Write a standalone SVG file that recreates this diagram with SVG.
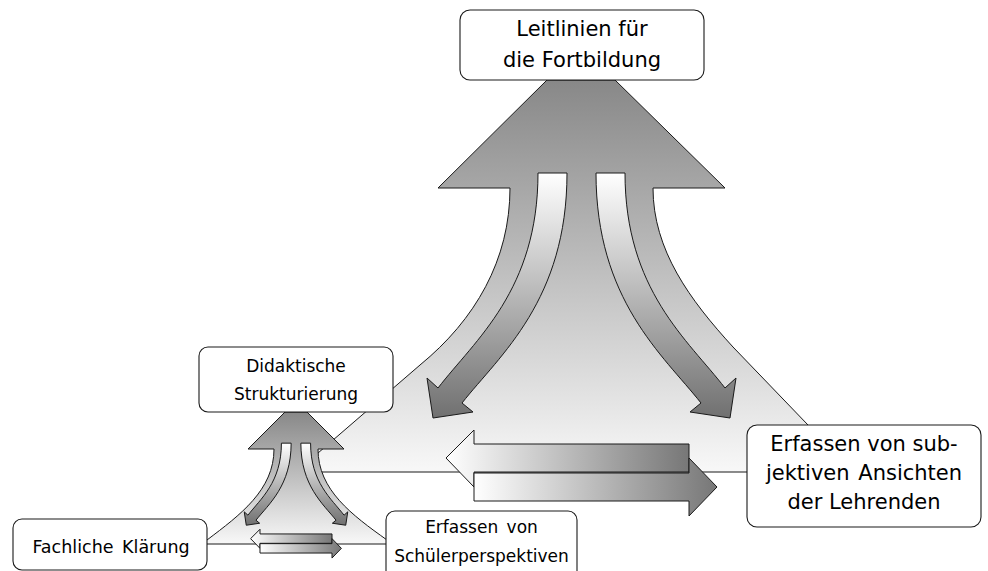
<svg xmlns="http://www.w3.org/2000/svg" xmlns:xlink="http://www.w3.org/1999/xlink" width="988" height="571" viewBox="0 0 988 571">
<style>
.edge{stroke:#1a1a1a;stroke-width:1;stroke-linejoin:miter;vector-effect:non-scaling-stroke}
.box{fill:#ffffff;stroke:#1a1a1a;stroke-width:1.1}
.lbl{font-family:"DejaVu Sans",sans-serif;fill:#000;text-anchor:middle}
.big{font-size:21px}
.small{font-size:17px}
</style>
<defs>
<linearGradient id="gBig" gradientUnits="userSpaceOnUse" x1="0" y1="80" x2="0" y2="472">
<stop offset="0" stop-color="#888888"/><stop offset="1" stop-color="#f8f8f8"/>
</linearGradient>
<linearGradient id="gSmall" gradientUnits="userSpaceOnUse" x1="0" y1="412" x2="0" y2="544">
<stop offset="0" stop-color="#888888"/><stop offset="1" stop-color="#f8f8f8"/>
</linearGradient>
<linearGradient id="gCurve" gradientUnits="userSpaceOnUse" x1="0" y1="173" x2="0" y2="418">
<stop offset="0" stop-color="#ffffff"/><stop offset="1" stop-color="#707070"/>
</linearGradient>
<linearGradient id="gDL" gradientUnits="userSpaceOnUse" x1="446" y1="0" x2="689" y2="0">
<stop offset="0" stop-color="#ffffff"/><stop offset="1" stop-color="#777777"/>
</linearGradient>
<linearGradient id="gDR" gradientUnits="userSpaceOnUse" x1="474" y1="0" x2="717" y2="0">
<stop offset="0" stop-color="#ffffff"/><stop offset="1" stop-color="#777777"/>
</linearGradient>
<path id="curveL" class="edge" fill="url(#gCurve)" d="M538,173 L567,173 C567,300 500,355 462,403 L473,412 L433,418 L427,378 L438,388 C475,340 538,290 538,173 Z"/>
<g id="inner">
<use xlink:href="#curveL"/>
<use xlink:href="#curveL" transform="translate(1163,0) scale(-1,1)"/>
<path class="edge" fill="url(#gDL)" d="M446,458 L474,430 L474,444 L689,444 L689,472 L474,472 L474,487 Z"/>
<path class="edge" fill="url(#gDR)" d="M474,473 L689,473 L689,458 L717,487 L689,516 L689,501 L474,501 Z"/>
</g>
</defs>
<g id="connectors">
<path id="fountain-big" class="edge" fill="url(#gBig)" d="M547,80 L615,80 L725,188 L653,188 C653,250 690,300 733,347 L808,425 L808,472 L296,472 L420,365 C475,320 510,260 510,188 L438,188 Z"/>
<use id="arrows-big" xlink:href="#inner"/>
<path id="fountain-small" class="edge" fill="url(#gSmall)" d="M285,412 L307,412 L344,449 L318,449 C318,490 352,515 387,540 L392,544 L202,544 L207,540 C240,515 274,490 274,449 L248,449 Z"/>
<use id="arrows-small" xlink:href="#inner" transform="translate(296,412) scale(0.335) translate(-581.5,-80)"/>
</g>
<g id="node-leitlinien">
<rect class="box" x="460" y="10" width="244" height="70" rx="10"/>
<text class="lbl big" x="582" y="36">Leitlinien für</text>
<text class="lbl big" x="582" y="67">die Fortbildung</text>
</g>
<g id="node-didaktische">
<rect class="box" x="199" y="347" width="194" height="65" rx="9"/>
<text class="lbl small" x="296" y="372">Didaktische</text>
<text class="lbl small" x="296" y="400">Strukturierung</text>
</g>
<g id="node-lehrende">
<rect class="box" x="747" y="425" width="234" height="102" rx="10"/>
<text class="lbl big" x="864" y="451">Erfassen von sub-</text>
<text class="lbl big" x="864" y="480" word-spacing="2">jektiven Ansichten</text>
<text class="lbl big" x="864" y="509">der Lehrenden</text>
</g>
<g id="node-fachliche">
<rect class="box" x="13" y="519" width="194" height="51" rx="9"/>
<text class="lbl" x="111" y="553" font-size="17.5" word-spacing="3">Fachliche Klärung</text>
</g>
<g id="node-schueler">
<rect class="box" x="386" y="511" width="191" height="75" rx="9"/>
<text class="lbl small" x="481.5" y="533" word-spacing="3">Erfassen von</text>
<text class="lbl small" x="481.5" y="562">Schülerperspektiven</text>
</g>
</svg>
